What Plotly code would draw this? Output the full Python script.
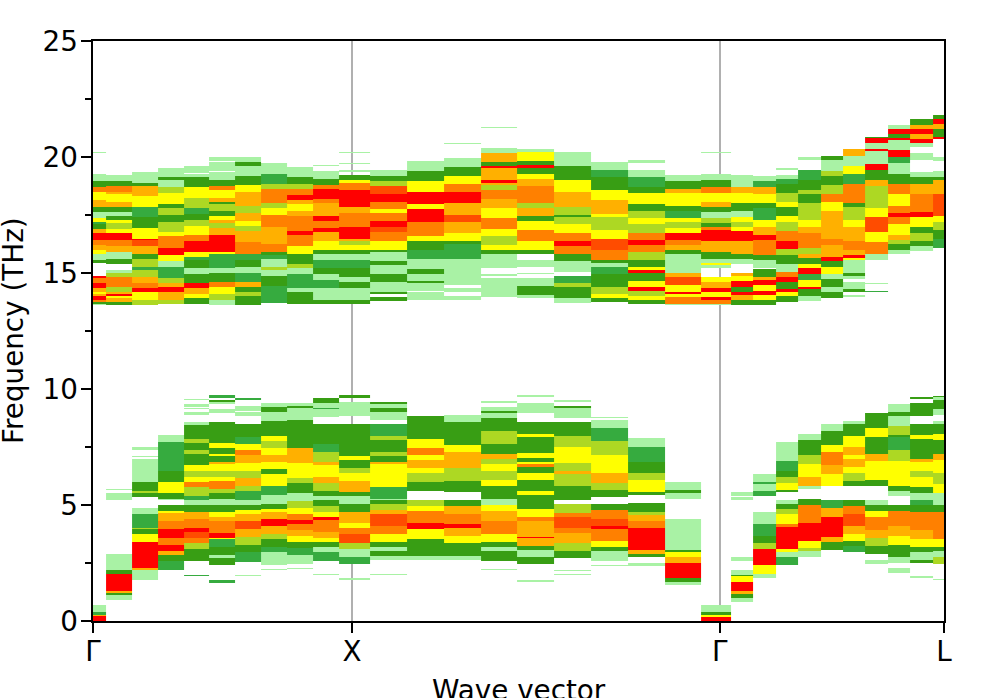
import plotly.graph_objects as go

# Wave-vector positions of the sampled q-points
Q = [0, .1, .2, .3, .4, .5, .6, .7, .8, .9, 1.0,
     1.142, 1.284, 1.426, 1.568, 1.71, 1.852, 1.994, 2.136, 2.278, 2.42,
     2.507, 2.593, 2.68, 2.766, 2.853, 2.94, 3.026, 3.113, 3.199, 3.286]
TICK_Q = [0, 1.0, 2.42, 3.286]
TICK_LABELS = ["Γ", "X", "Γ", "L"]

# Each column: frequency (THz) at which a band starts, then its density level (0 = empty)
C00 = [0,9,.19,6,.29,2,.39,1,.69,0,
       13.6,1,13.68,3,13.78,7,13.85,9,13.98,6,14.1,5,14.2,6,14.35,9,14.56,7,14.8,9,14.88,0,15.42,3,15.55,1,15.85,5,16,6,16.2,7,16.45,9,16.7,6,16.9,3,17.1,2,17.2,5,17.35,1,17.65,3,17.83,6,18.15,5,18.5,7,18.72,3,18.94,1,19.3,0,20.15,1,20.22,0]
C01 = [.93,1,1.1,3,1.2,6,1.3,9,2.03,3,2.2,1,2.9,0,5.2,1,5.52,0,5.64,1,5.7,0,
       13.65,3,13.78,6,13.9,5,14,9,14.08,6,14.15,4,14.4,7,14.85,4,15,1,15.13,0,15.39,3,15.6,1,15.9,6,16.15,7,16.45,9,16.72,5,16.9,4,17.15,5,17.3,3,17.45,1,17.65,3,17.83,6,18.1,5,18.4,6,18.5,7,18.75,3,18.95,1,19.25,0]
C02 = [1.75,1,2.2,6,2.3,9,3.4,5,3.75,3,3.95,4,4,2,4.6,1,4.9,0,5.35,3,5.5,4,5.6,3,6,1,7,0,7.08,1,7.12,0,7.35,1,7.5,0,
       13.65,4,13.85,5,14.2,9,14.35,7,14.55,6,14.85,4,15.1,2,15.3,4,15.6,3,15.85,6,16.15,8,16.45,9,16.5,5,16.95,3,17.4,2,17.85,5,18.3,6,18.75,3,18.9,1,19.38,0]
C03 = [2.2,2,2.6,3,2.85,6,3,9,3.3,7,3.55,9,3.95,7,4.3,6,4.65,5,4.75,3,5,0,5.2,1,5.3,3,5.5,5,6,3,6.5,2,7.73,1,8,0,
       13.7,4,13.85,6,14.2,9,14.4,6,14.55,4,14.8,2,15.25,1,15.5,5,15.75,9,16.1,7,16.6,5,16.75,4,17.2,3,17.5,4,17.8,3,17.95,5,18.45,4,18.72,1,19,3,19.1,1,19.52,0]
C04 = [1.9,2,2,0,2.6,3,3.1,4,3.35,7,3.55,8,3.85,9,4,7,4.4,6,4.7,3,5,1,5.2,2,5.4,4,5.75,7,6,5,6.2,4,6.5,5,6.7,3,7.2,4,7.35,3,7.7,4,7.85,3,8.45,1,8.55,0,8.9,1,9,0,9.1,1,9.15,0,9.25,1,9.35,0,9.5,1,9.55,0,
       13.7,3,13.9,5,14.1,6,14.35,9,14.55,3,14.95,1,15.2,3,15.55,2,15.7,5,15.9,9,16.35,7,16.65,5,17.05,4,17.3,3,17.55,2,17.8,4,18.25,5,18.72,3,19.1,1,19.3,0,19.33,1,19.6,0]
C05 = [1.65,2,1.75,0,2.4,3,2.7,1,2.85,3,3.2,2,3.5,5,3.55,9,3.8,7,4.3,6,4.5,5,4.72,3,5,1,5.25,3,5.5,4,5.7,7,6.05,5,6.2,4,6.5,5,6.75,6,6.85,3,7.1,5,7.2,3,7.45,5,7.7,3,8.55,0,8.95,1,9.1,0,9.35,1,9.45,3,9.52,0,9.62,2,9.75,0,
       13.65,1,13.85,4,14.1,5,14.4,7,14.6,3,15,1,15.2,2,15.8,5,15.9,9,16.65,6,16.95,4,17.15,6,17.3,5,17.45,3,17.7,4,17.95,3,18.1,6,18.25,5,18.55,7,18.75,3,19,1,19.35,0,19.4,1,19.8,0,19.85,1,20.02,0]
C06 = [1.95,1,2,0,2.55,2,2.98,3,3.3,4,3.6,6,3.95,8,4.3,6,4.6,5,4.8,3,5,1,5.2,2,5.6,4,5.85,6,6.15,4,6.5,5,6.8,6,7.15,7,7.35,5,7.65,2,7.9,3,8.5,0,8.85,1,9,0,9.05,1,9.3,0,9.5,2,9.58,0,
       13.65,3,14,4,14.15,3,14.4,6,14.6,2,15,1,15.3,3,15.55,2,15.85,7,16.3,6,16.8,4,17.05,5,17.25,6,17.6,4,17.9,6,18.5,5,18.8,3,19.2,1,19.6,3,19.8,1,20,0]
C07 = [2.2,1,2.25,0,2.4,1,2.95,2,3.2,3,3.5,4,3.75,6,4.1,9,4.4,6,4.72,5,4.85,3,5.05,1,5.45,2,5.85,5,6.3,3,6.55,5,6.85,6,7.15,5,7.45,4,7.75,5,7.95,3,8.65,1,9,3,9.25,1,9.4,0,
       13.72,2,14.45,3,14.9,1,15.1,4,15.3,1,15.6,2,15.75,3,15.9,7,16.25,6,17,7,17.5,5,17.8,4,18,7,18.65,4,18.85,2,19.3,1,19.75,0]
C08 = [2.25,1,2.3,0,2.45,1,2.85,2,3.15,3,3.4,5,3.7,6,3.9,7,4.2,9,4.35,7,4.6,5,4.9,4,5.15,1,5.5,3,5.95,4,6.15,5,6.8,6,7.45,3,8.7,1,9.15,3,9.3,1,9.38,0,
       13.7,3,14.15,1,14.35,2,14.95,1,15.2,4,15.4,3,15.85,5,16.15,7,16.65,9,16.8,7,17.45,6,17.7,5,17.95,6,18.15,9,18.35,7,18.65,4,18.85,3,19.1,1,19.55,0]
C09 = [2,1,2.05,0,2.6,2,2.95,1,3.2,3,3.4,5,3.55,6,3.85,7,4.35,9,4.5,5,4.7,4,4.97,3,5.2,1,5.4,3,5.6,4,5.95,6,6.2,5,6.7,6,6.85,4,7.3,2,7.65,3,8.5,0,8.8,1,9.1,2,9.2,1,9.4,3,9.58,0,
       13.7,3,13.85,1,14.35,2,14.7,1,14.95,3,15.2,2,15.55,1,15.8,3,16,5,16.4,6,16.75,9,16.95,7,17.25,9,17.45,6,18,7,18.2,9,18.6,7,18.8,3,19.05,1,19.4,0,19.6,1,19.65,0]
C10 = [1.75,1,1.82,0,2.45,2,2.75,1,3.1,4,3.35,8,3.75,7,4,5,4.25,6,4.7,3,5.05,1,5.4,3,5.55,6,6.05,5,6.4,4,6.6,3,6.95,5,7.1,3,8.5,0,8.85,1,9.45,0,9.6,3,9.75,0,
       13.7,3,13.85,1,14.35,3,14.6,1,14.85,3,15.2,2,15.55,1,15.85,3,16,5,16.2,4,16.4,6,16.5,9,17,7,17.6,6,17.85,9,18.55,7,18.9,5,19,3,19.25,0,19.35,1,19.45,0,19.68,1,19.75,0,20.18,1,20.22,0]
C11 = [2,1,2.05,0,2.65,1,2.8,3,3,1,3.2,3,3.4,5,3.75,7,4.1,8,4.6,6,4.8,4,5.05,3,5.2,1,5.3,2,5.75,5,6.75,6,6.85,3,7.1,4,7.3,3,7.8,4,7.95,2,8.5,0,8.7,1,9,3,9.15,1,9.35,3,9.45,0,
       13.8,3,13.95,0,14.1,3,14.2,1,14.6,3,14.95,1,15.35,3,15.5,1,15.9,3,16,5,16.4,7,16.75,8,17,9,17.25,7,17.6,5,17.75,7,18.05,9,18.4,8,18.75,4,18.95,3,19.2,1,19.45,0]
C12 = [2.65,1,2.8,3,3.5,5,3.95,9,4.25,7,4.75,5,4.95,4,5.2,0,5.6,3,6,4,6.4,5,6.6,6,6.95,5,7.15,7,7.45,5,7.85,3,8.85,0,
       13.85,1,14.2,0,14.25,1,14.55,3,14.65,1,14.95,3,15.15,1,15.6,2,16,3,16.35,5,16.6,7,17.2,9,17.75,5,17.95,9,18.5,5,18.95,3,19.4,1,19.85,0]
C13 = [2.65,1,2.8,3,3.35,5,3.7,6,4,9,4.15,7,4.6,6,4.95,3,5.2,0,5.55,3,6.05,4,6.6,6,7.3,5,7.6,3,8.55,1,8.9,0,
       13.85,1,14,0,14.15,1,14.35,0,14.5,1,15.6,2,16.25,3,16.4,5,16.7,6,17.2,8,17.5,6,18,9,18.5,7,18.85,5,19.2,3,19.55,1,19.95,0,20.55,1,20.6,0]
C14 = [2.2,1,2.25,0,2.6,3,3,1,3.2,3,3.4,5,3.75,7,4.3,6,4.75,5,5,1,5.3,3,5.85,5,6.1,4,6.5,5,6.75,4,7,6,7.2,3,7.65,4,8.2,3,8.75,1,8.95,3,9.05,1,9.25,0,9.4,1,9.48,0,
       13.95,1,14.8,0,14.9,1,14.98,0,15.2,1,15.8,3,16,5,16.2,4,16.6,5,16.9,7,17.35,5,17.8,6,18.2,7,18.55,4,18.8,6,18.9,9,19,6,19.5,9,19.6,3,19.8,6,20.15,1,20.4,0,21.25,1,21.3,0]
C15 = [1.7,1,1.77,0,2.45,3,2.75,1,3.05,3,3.25,6,3.55,9,3.65,6,4.3,7,4.5,5,4.85,3,5.45,5,5.6,3,6.1,5,6.4,3,6.65,7,6.75,5,6.85,3,7.05,5,7.25,3,7.9,5,8.05,3,8.55,0,8.95,1,9.4,0,9.65,1,9.75,0,
       13.9,1,14.05,3,14.45,1,14.8,0,14.95,1,15,0,15.25,1,15.55,0,15.85,3,16,5,16.4,7,16.85,5,17.25,3,17.45,6,17.8,4,18,7,18.75,6,19.05,5,19.3,3,19.5,9,19.65,3,19.85,5,20.2,1,20.35,0]
C16 = [2,1,2.05,0,2.15,1,2.2,0,2.7,3,3,4,3.35,6,3.8,7,4,8,4.5,7,4.65,4,5.05,0,5.2,3,5.85,4,6.3,6,6.5,4,6.8,5,7.5,4,7.95,3,8.55,0,8.75,1,9.2,3,9.3,0,9.45,1,9.5,0,
       13.72,1,13.9,3,14.4,4,14.55,2,14.9,0,15.05,1,15.5,3,15.85,7,16.15,9,16.4,7,16.7,5,17.1,4,17.4,3,17.5,4,17.85,6,18.5,5,19,3,19.6,1,20.2,0]
C17 = [2.35,1,2.42,0,2.6,1,3,3,3.2,5,3.45,7,3.95,9,4.1,8,4.4,7,4.8,3,5.05,0,5.35,3,5.65,4,5.95,6,6.4,5,7.15,4,7.75,2,8.3,1,8.7,0,8.75,1,8.8,0,
       13.75,3,13.9,5,14.1,4,14.4,3,14.95,2,15.3,1,15.45,3,15.55,7,16,8,16.5,5,16.85,4,17.4,5,17.55,6,18.15,5,18.55,3,19.1,2,19.45,1,19.8,0]
C18 = [2.35,1,2.5,0,2.75,3,2.9,6,3.05,9,4,7,4.3,6,4.55,4,4.7,3,5.1,0,5.45,3,5.55,5,6.1,4,6.35,3,6.85,2,7.5,1,7.87,0,
       13.7,3,13.82,5,14,4,14.25,9,14.4,5,14.65,3,15,9,15.1,5,15.3,3,15.55,4,15.9,7,16.2,9,16.45,7,16.7,4,17.1,5,17.35,4,17.7,3,17.95,5,18.45,3,18.7,2,19.1,1,19.45,0,19.75,1,19.9,0]
C19 = [1.55,1,1.7,3,1.85,9,2.5,6,2.75,5,2.95,3,3.05,1,4.4,0,5.25,1,5.5,3,5.65,1,5.98,0,
       13.6,1,13.7,7,13.95,5,14.1,9,14.2,5,14.5,8,14.85,6,15,1,15.85,3,16,6,16.2,7,16.45,9,16.7,5,16.95,4,17.2,5,17.35,2,17.7,3,17.9,5,18.45,6,18.65,3,18.95,1,19.25,0]
C20 = [0,9,.15,5,.25,3,.4,1,.69,0,
       13.6,1,13.7,7,13.85,9,13.95,5,14.15,9,14.35,6,14.6,5,14.85,0,15.2,1,15.35,5,15.45,1,15.6,3,15.9,6,16.4,9,16.85,7,17,3,17.15,4,17.35,1,17.65,3,17.85,6,18.1,5,18.45,7,18.7,3,19,1,19.3,0,20.18,1,20.22,0]
C21 = [.85,1,1,3,1.15,6,1.3,9,1.7,5,1.95,3,2,1,2.2,0,2.6,1,2.75,0,5.2,1,5.35,0,5.4,1,5.55,0,
       13.65,3,13.85,6,14.05,9,14.15,3,14.4,9,14.65,5,14.9,6,15,0,15.4,1,15.6,3,15.85,6,16.35,9,16.8,5,17,4,17.2,5,17.4,1,17.7,3,18,5,18.45,6,18.7,1,19.25,0]
C22 = [1.85,1,2.05,5,2.4,9,3.1,4,3.35,3,3.7,2,4.2,1,4.7,0,5.4,2,5.6,1,5.9,2,6,1,6.3,0,
       13.65,3,13.85,5,14.05,9,14.25,5,14.5,9,14.7,6,14.85,3,15.15,0,15.2,1,15.55,3,15.75,7,16.45,9,16.65,6,17,5,17.3,2,17.8,3,18,5,18.4,6,18.7,2,18.98,1,19.22,0]
C23 = [2.4,2,2.75,1,2.95,5,3.1,9,4.05,7,4.2,5,4.6,4,4.85,3,5.05,1,5.2,0,5.55,3,5.65,5,5.95,4,6.2,3,6.5,2,6.9,1,7.72,0,
       13.75,3,14,5,14.2,9,14.3,3,14.6,9,14.85,7,15.05,1,15.4,3,15.75,4,16.05,9,16.35,7,16.8,4,17.2,5,17.45,3,17.85,5,18.1,4,18.45,3,18.85,2,19.05,1,19.25,0,19.45,1,19.5,0]
C24 = [2.75,1,3,4,3.15,5,3.45,9,4.25,7,5,3,5.25,0,5.7,1,5.85,6,6.2,5,6.75,4,7.15,3,7.8,1,8.1,0,
       13.8,1,14,3,14.3,9,14.4,5,14.7,2,14.95,9,15.2,5,15.4,3,15.65,6,15.85,4,16.1,7,16.7,6,17,5,17.3,4,18,3,18.4,4,18.55,3,19,2,19.45,0,19.9,1,20,0]
C25 = [3.05,3,3.4,6,3.6,9,4.5,6,4.9,2,5.2,0,5.85,5,6.3,6,6.7,7,7.3,5,7.6,3,8.2,1,8.5,0,
       13.9,3,14.15,1,14.4,3,14.75,1,14.95,5,15.25,3,15.5,9,15.7,6,16.2,7,16.5,6,17.7,5,18.1,7,18.4,4,18.8,3,19.2,4,19.4,1,19.9,3,20.05,0]
C26 = [2.95,2,3.25,3,3.45,5,3.75,6,4.1,8,4.6,7,4.95,3,5.2,0,5.8,3,6.05,4,6.35,5,6.65,6,7,5,7.15,6,7.5,5,7.95,3,8.5,1,8.65,0,
       13.95,1,14.05,0,14.2,3,14.3,1,14.6,0,14.75,1,14.9,3,15,1,15.55,5,15.65,9,15.75,6,16,7,16.4,6,17,5,17.3,4,17.85,3,18,7,18.85,2,19.3,5,19.6,1,20.05,6,20.35,0]
C27 = [2.45,1,2.65,0,2.9,3,3.25,4,3.55,6,3.9,7,4.5,5,4.75,3,5,1,5.2,0,5.85,3,6.1,5,6.9,6,7.2,3,7.9,5,8.3,3,8.95,0,
       14.17,2,14.25,0,14.52,1,14.58,0,15.55,1,15.8,7,16.3,5,16.75,8,17.4,5,17.8,4,18.75,6,19,3,19.45,9,19.7,1,20.25,9,20.35,1,20.6,9,20.8,3,20.9,0]
C28 = [2.1,1,2.3,0,2.5,1,2.75,3,3.3,5,3.7,6,4.1,7,4.75,3,5,0,5.4,1,5.6,3,5.85,5,6.9,4,7.35,2,7.9,3,8,4,8.4,1,8.85,3,9,1,9.35,0,
       15.85,1,16,3,16.25,4,16.45,6,16.65,5,17.1,7,17.4,9,17.6,7,17.9,5,18.4,7,18.85,3,19.3,1,19.75,2,20,9,20.3,1,20.7,9,20.85,3,21,9,21.2,1,21.35,0]
C29 = [1.85,1,1.9,0,2.5,3,2.65,1,2.95,3,3.2,5,3.5,6,3.9,7,4.7,3,5,2,5.2,1,5.5,3,5.75,5,6.2,4,6.5,5,6.85,6,7,3,7.85,5,8,3,8.5,0,8.85,3,9.4,0,9.55,3,9.65,0,
       15.95,1,16.15,3,16.35,4,16.7,3,17,5,17.4,9,17.65,7,18.4,6,18.85,3,19.1,1,19.35,0,19.9,1,20.15,0,20.45,1,20.6,9,20.75,6,21,9,21.2,6,21.4,3,21.65,0]
C30 = [1.75,1,1.8,0,2.45,4,2.75,1,3,3,3.2,5,3.5,7,4.7,3,5,1,5.5,5,5.9,4,6.35,5,6.95,6,7.2,3,7.8,5,8.1,3,8.5,1,8.6,0,8.9,1,9.1,3,9.5,1,9.65,3,9.72,0,
       16.1,2,16.5,3,16.85,4,17.2,5,17.45,8,18.4,6,19,3,19.1,1,19.4,0,19.85,1,20,0,20.75,9,20.9,3,21.2,6,21.45,9,21.65,3,21.8,0]

COLUMNS = [C00, C01, C02, C03, C04, C05, C06, C07, C08, C09, C10, C11, C12, C13, C14, C15,
           C16, C17, C18, C19, C20, C21, C22, C23, C24, C25, C26, C27, C28, C29, C30]

# Density level colours
LEVEL_COLOURS = ["#a9f2a5", "#36ab3f", "#389e14", "#add823", "#ffff00",
                 "#ffb000", "#ff8000", "#ff4c00", "#ff0000"]

BIN = 0.04
N_BINS = 625
freq = [(i + 0.5) * BIN for i in range(N_BINS)]
z = [[None] * len(COLUMNS) for _ in range(N_BINS)]
for c, col in enumerate(COLUMNS):
    for f0, lvl, f1 in zip(col[::2], col[1::2], col[2::2]):
        if lvl:
            for i in range(int(round(f0 / BIN)), int(round(f1 / BIN))):
                z[i][c] = lvl

n = len(LEVEL_COLOURS)
scale = []
for i, c in enumerate(LEVEL_COLOURS):
    scale += [[i / n, c], [(i + 1) / n, c]]

fig = go.Figure(go.Heatmap(x=Q, y=freq, z=z, zmin=0.5, zmax=9.5, colorscale=scale,
                           showscale=False, hoverongaps=False))
FONT = "DejaVu Sans"
SIZE = 27.8
fig.update_layout(
    width=997, height=698, autosize=False, plot_bgcolor="white", paper_bgcolor="white",
    margin=dict(l=93, r=53, t=41, b=77),
    font=dict(family=FONT, size=SIZE, color="black"),
    xaxis=dict(range=[0, 3.286], tickmode="array", tickvals=TICK_Q, ticktext=TICK_LABELS,
               showgrid=True, gridcolor="#b0b0b0", gridwidth=2.2, zeroline=False, automargin=False,
               showline=True, linecolor="black", linewidth=2.2, mirror=True, ticklabelstandoff=-5,
               ticks="outside", ticklen=9.5, tickwidth=2.2, tickcolor="black"),
    yaxis=dict(range=[0, 25], tickmode="array", tickvals=[0, 5, 10, 15, 20, 25],
               showgrid=False, zeroline=False, automargin=False, ticklabelstandoff=-2,
               showline=True, linecolor="black", linewidth=2.2, mirror=True,
               ticks="outside", ticklen=9.5, tickwidth=2.2, tickcolor="black",
               minor=dict(tickmode="array", tickvals=[2.5, 7.5, 12.5, 17.5, 22.5],
                          ticks="outside", ticklen=5.5, tickwidth=1.6, tickcolor="black", showgrid=False)),
    annotations=[
        dict(text="Wave vector", xref="paper", yref="paper", x=0.5, y=0, xanchor="center",
             yanchor="top", yshift=-51, showarrow=False, font=dict(family=FONT, size=SIZE)),
        dict(text="Frequency (THz)", xref="paper", yref="paper", x=0, y=0.5, xanchor="center",
             yanchor="middle", xshift=-80, textangle=-90, showarrow=False, font=dict(family=FONT, size=SIZE)),
    ],
)
fig.write_html("out.html", config={"displayModeBar": False},
               post_script="document.body.style.margin='0';")
